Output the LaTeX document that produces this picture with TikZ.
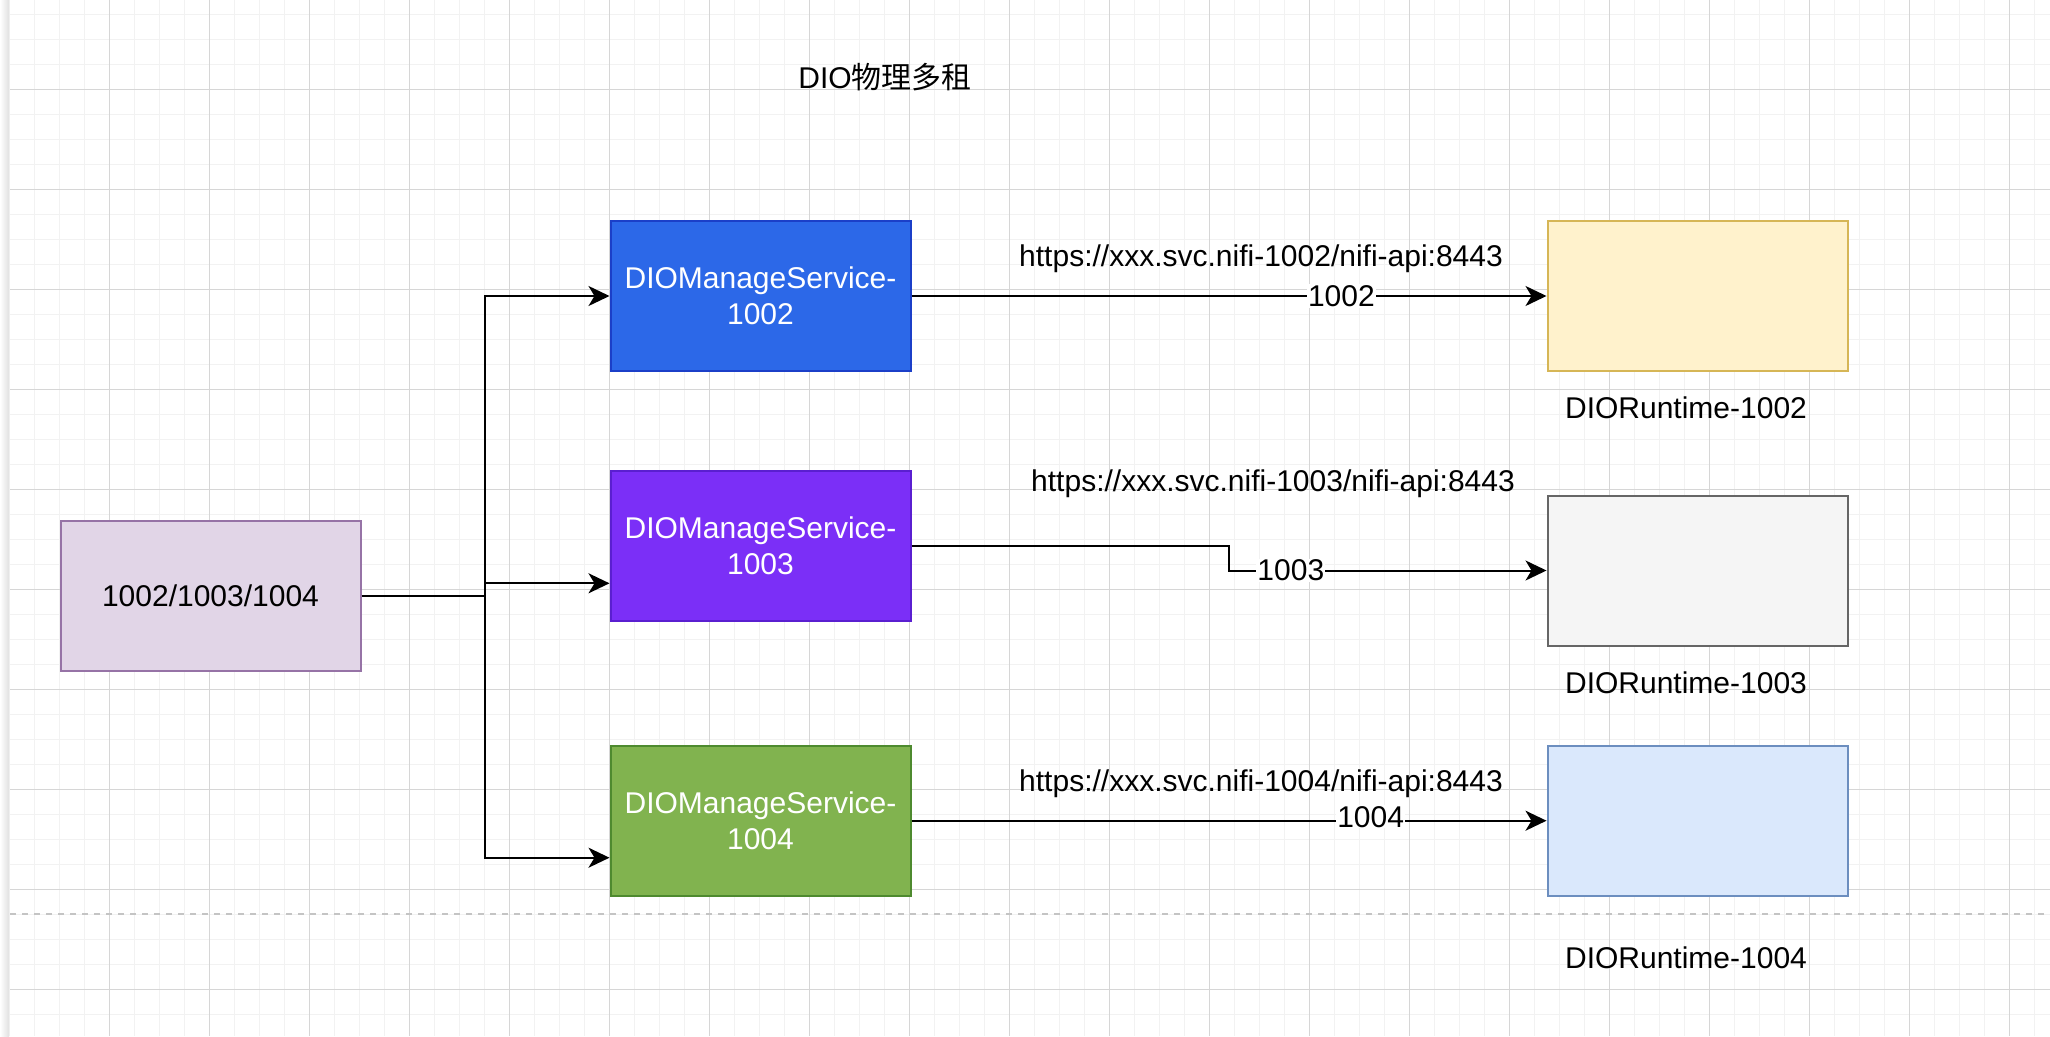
\documentclass[tikz,border=0pt]{standalone}
\usepackage{fontspec}
\setmainfont{Liberation Sans}
\newfontfamily\cjk{Noto Sans CJK SC}
\usetikzlibrary{arrows.meta,calc}
\definecolor{gridminor}{HTML}{F2F2F2}
\definecolor{gridmajor}{HTML}{D6D6D6}
\definecolor{srcfill}{HTML}{E1D5E7}
\definecolor{srcdraw}{HTML}{9673A6}
\definecolor{bluefill}{HTML}{2C68E8}
\definecolor{bluedraw}{HTML}{1B3FC8}
\definecolor{violetfill}{HTML}{7B2FF7}
\definecolor{violetdraw}{HTML}{5A1FD0}
\definecolor{greenfill}{HTML}{81B34F}
\definecolor{greendraw}{HTML}{4E8A2F}
\definecolor{yelfill}{HTML}{FFF2CC}
\definecolor{yeldraw}{HTML}{D6B656}
\definecolor{grayfill}{HTML}{F5F5F5}
\definecolor{graydraw}{HTML}{666666}
\definecolor{lbluefill}{HTML}{DAE8FC}
\definecolor{lbluedraw}{HTML}{6C8EBF}
\definecolor{dashcol}{HTML}{C4C4C4}
\tikzset{
  minorline/.style={draw=gridminor, line width=1.6pt},
  majorline/.style={draw=gridmajor, line width=1pt},
  box/.style={rectangle, minimum width=300pt, minimum height=150pt, line width=2pt, align=center, inner sep=0pt},
  darkbox/.style={box, text=white},
  conn/.style={draw=black, line width=2pt},
  arr/.style={conn, -{Stealth[length=21pt,width=20pt,inset=6pt]}},
  elabel/.style={fill=white, inner sep=1pt, text=black},
  plain/.style={inner sep=0pt, text=black},
  dashline/.style={draw=dashcol, line width=2pt, dash pattern=on 6pt off 6pt}
}
\begin{document}
\begin{tikzpicture}[x=1pt, y=-1pt, font=\fontsize{30}{36}\selectfont]
\useasboundingbox (0,0) rectangle (2050,1036);
\fill[white] (0,0) rectangle (2050,1036);
% grid
\foreach \i in {0,...,81} {\draw[minorline] (9.3+25*\i,0) -- (9.3+25*\i,1036);}
\foreach \j in {0,...,41} {\draw[minorline] (10,14.3+25*\j) -- (2050,14.3+25*\j);}
\foreach \i in {1,...,20} {\draw[majorline] (9.3+100*\i,0) -- (9.3+100*\i,1036);}
\foreach \j in {0,...,9} {\draw[majorline] (10,89.3+100*\j) -- (2050,89.3+100*\j);}
% left page edge
\shade[left color=white, right color=black!12] (0,0) rectangle (9,1036);
% dashed page break
\draw[dashline] (10,914) -- (2050,914);

% title
\node[plain] (title) at (885,77) {DIO{\cjk 物理多租}};

% nodes
\node[box, fill=srcfill, draw=srcdraw] (src) at (210.5,595.7) {1002/1003/1004};
\node[darkbox, fill=bluefill, draw=bluedraw] (ms1) at (760.5,296) {DIOManageService-\\1002};
\node[darkbox, fill=violetfill, draw=violetdraw] (ms2) at (760.5,546) {DIOManageService-\\1003};
\node[darkbox, fill=greenfill, draw=greendraw] (ms3) at (760.5,820.7) {DIOManageService-\\1004};

\node[box, fill=yelfill, draw=yeldraw] (rt1) at (1697.5,296) {};
\node[box, fill=grayfill, draw=graydraw] (rt2) at (1697.5,570.5) {};
\node[box, fill=lbluefill, draw=lbluedraw] (rt3) at (1697.5,820.7) {};

\node[plain] (rtl1) at (1686,408) {DIORuntime-1002};
\node[plain] (rtl2) at (1686,682.5) {DIORuntime-1003};
\node[plain] (rtl3) at (1686,958) {DIORuntime-1004};

\node[plain] (url1) at (1261,259) {https://xxx.svc.nifi-1002/nifi-api:8443};
\node[plain] (url2) at (1273,484) {https://xxx.svc.nifi-1003/nifi-api:8443};
\node[plain] (url3) at (1261,784) {https://xxx.svc.nifi-1004/nifi-api:8443};

% source fan-out
\coordinate (fork) at (485,595.7);
\coordinate (in2) at ($(ms2.west)+(0,37.3)$);
\coordinate (in3) at ($(ms3.west)+(0,37)$);
\draw[conn] (src.east) -- (fork);
\draw[arr] (fork) |- (ms1.west);
\draw[arr] (fork) |- (in2);
\draw[arr] (fork) |- (in3);

% service -> runtime
\draw[arr] (ms1.east) -- node[elabel, pos=0.677] (e1) {1002} (rt1.west);
\coordinate (b2) at (1229.3,0);
\draw[arr] (ms2.east) -| (b2 |- rt2.west) -- node[elabel, pos=0.194] (e2) {1003} (rt2.west);
\draw[arr] (ms3.east) -- node[elabel, pos=0.723, yshift=4pt] (e3) {1004} (rt3.west);
\end{tikzpicture}
\end{document}
